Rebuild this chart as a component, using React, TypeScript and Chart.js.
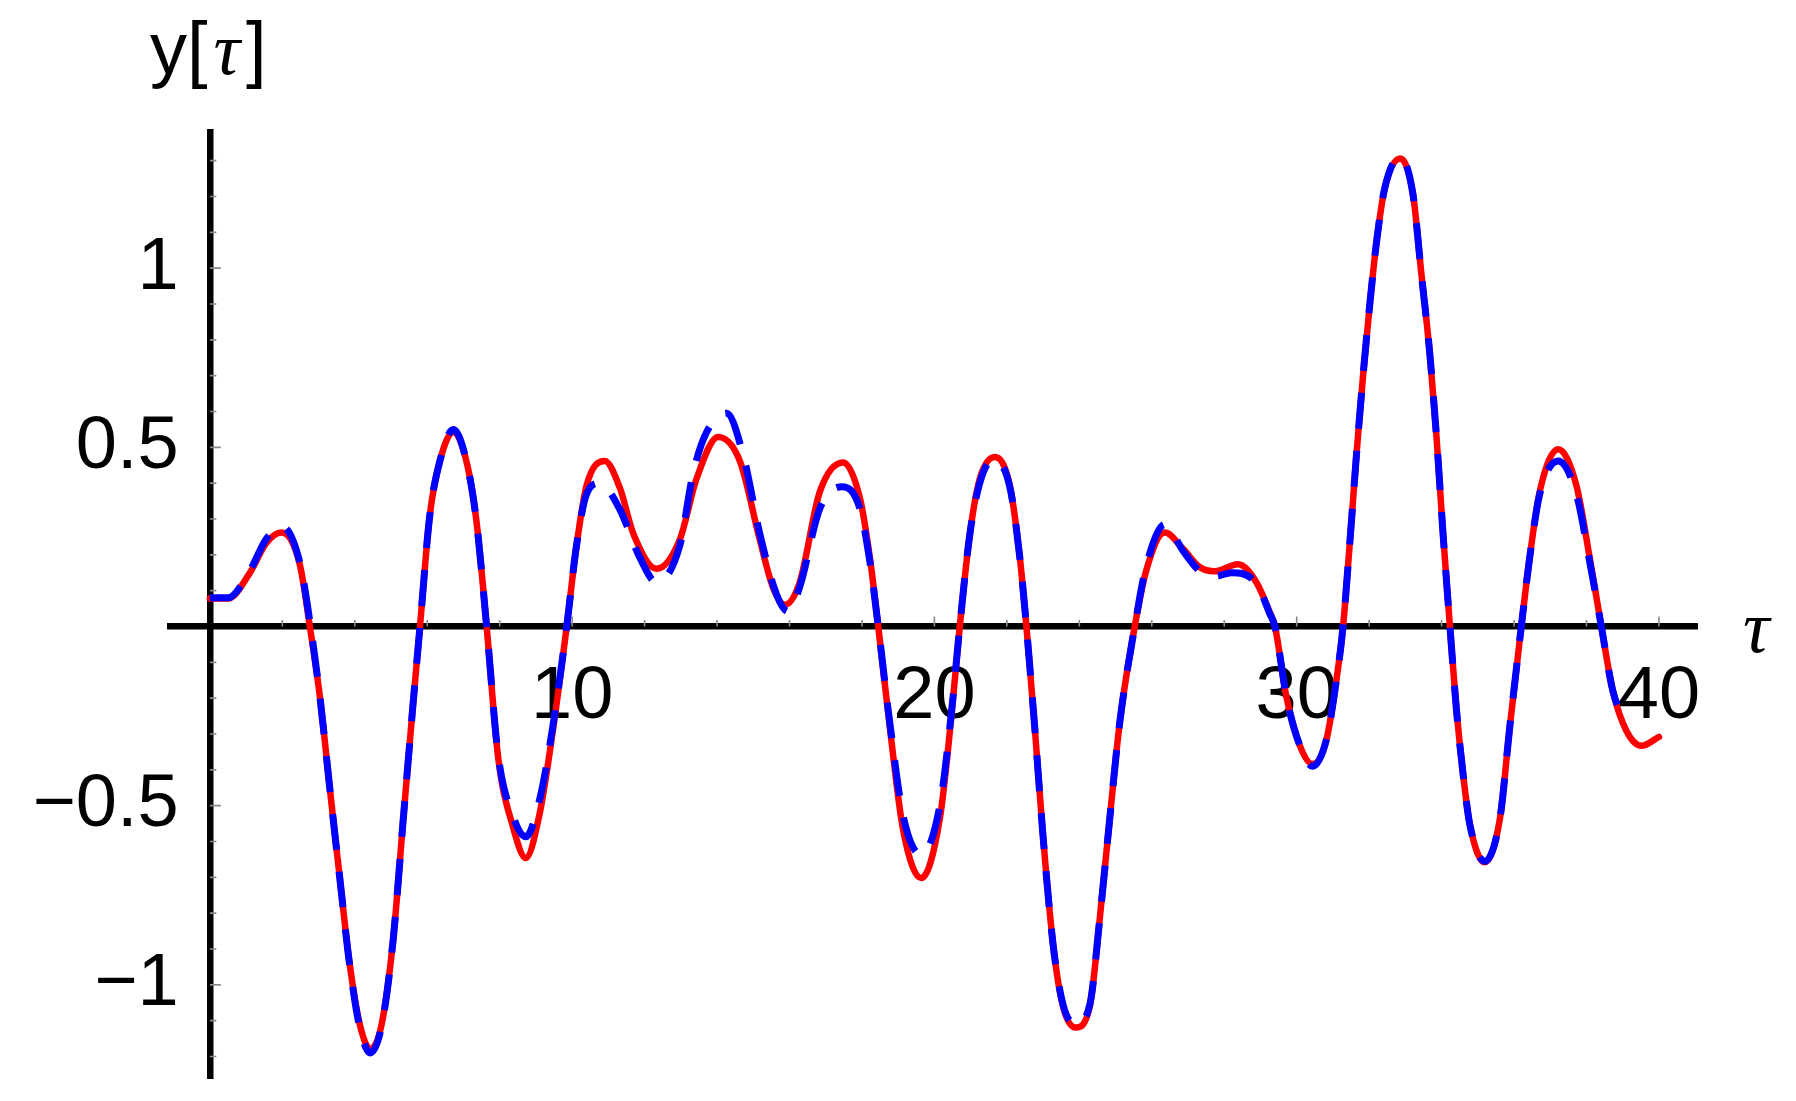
import React, { useEffect, useRef } from "react";
import { Chart, registerables } from "chart.js";

Chart.register(...registerables);

// red solid curve: [tau, y]
const redCurve: [number, number][] = [
  [0, 0.078], [0.5, 0.078], [1.1, 0.149], [1.56, 0.233], [1.98, 0.262], [2.48, 0.174], [2.76, 0],
  [3.04, -0.198], [3.31, -0.451], [3.59, -0.705], [3.86, -0.942], [4.14, -1.111], [4.43, -1.179],
  [4.74, -1.111], [5.06, -0.874], [5.34, -0.536], [5.61, -0.215], [5.8, 0], [6.07, 0.309], [6.35, 0.462],
  [6.72, 0.543], [7.08, 0.462], [7.36, 0.293], [7.64, 0], [7.96, -0.367], [8.37, -0.56], [8.72, -0.646],
  [9.11, -0.519], [9.48, -0.282], [9.85, 0], [10.12, 0.225], [10.4, 0.394], [10.9, 0.462], [11.32, 0.386],
  [11.69, 0.259], [12.33, 0.161], [12.97, 0.242], [13.43, 0.411], [14.03, 0.529], [14.63, 0.462],
  [15.18, 0.242], [15.55, 0.107], [15.87, 0.061], [16.28, 0.123], [16.84, 0.377], [17.48, 0.458],
  [17.94, 0.36], [18.22, 0.191], [18.45, 0], [18.77, -0.282], [19.14, -0.57], [19.64, -0.702],
  [20.15, -0.536], [20.47, -0.249], [20.7, 0], [20.98, 0.259], [21.25, 0.411], [21.67, 0.473],
  [22.08, 0.394], [22.36, 0.191], [22.54, 0], [22.77, -0.282], [23.0, -0.587], [23.28, -0.891],
  [23.55, -1.06], [23.9, -1.119], [24.29, -1.06], [24.57, -0.81], [24.84, -0.536], [25.12, -0.265],
  [25.53, 0], [25.85, 0.157], [26.36, 0.262], [26.87, 0.216], [27.32, 0.166], [27.74, 0.154],
  [28.38, 0.174], [28.89, 0.123], [29.26, 0.039], [29.4, 0], [29.72, -0.198], [30.09, -0.333],
  [30.44, -0.384], [30.82, -0.316], [31.1, -0.147], [31.28, 0], [31.46, 0.225], [31.65, 0.479],
  [31.83, 0.698], [32.02, 0.901], [32.2, 1.07], [32.43, 1.223], [32.86, 1.306], [33.21, 1.206],
  [33.44, 0.986], [33.67, 0.766], [33.86, 0.529], [34.04, 0.259], [34.23, 0], [34.41, -0.232],
  [34.6, -0.418], [34.78, -0.553], [35.19, -0.658], [35.61, -0.536], [35.88, -0.282], [36.2, 0],
  [36.43, 0.191], [36.71, 0.377], [37.22, 0.495], [37.72, 0.394], [38.09, 0.191], [38.41, 0],
  [38.73, -0.181], [39.1, -0.291], [39.52, -0.333], [40.0, -0.308],
];

// blue dashed curve: [tau, y]
const blueCurve: [number, number][] = [
  [0, 0.08], [0.5, 0.08], [1.1, 0.155], [1.56, 0.245], [1.98, 0.28], [2.48, 0.18], [2.78, 0],
  [3.04, -0.198], [3.31, -0.451], [3.59, -0.705], [3.86, -0.945], [4.14, -1.12], [4.43, -1.19],
  [4.74, -1.115], [5.06, -0.874], [5.34, -0.536], [5.61, -0.215], [5.8, 0], [6.07, 0.309], [6.35, 0.462],
  [6.72, 0.55], [7.08, 0.462], [7.36, 0.293], [7.64, 0], [7.96, -0.36], [8.37, -0.53], [8.72, -0.587],
  [9.11, -0.48], [9.48, -0.27], [9.85, 0], [10.12, 0.225], [10.4, 0.37], [10.76, 0.4], [11.3, 0.33],
  [11.88, 0.19], [12.33, 0.123], [12.97, 0.225], [13.34, 0.428], [13.7, 0.54], [14.26, 0.595],
  [14.72, 0.479], [15.18, 0.259], [15.64, 0.09], [15.96, 0.042], [16.28, 0.11], [16.84, 0.33],
  [17.45, 0.39], [17.94, 0.33], [18.22, 0.18], [18.45, 0], [18.77, -0.27], [19.14, -0.53],
  [19.64, -0.637], [20.15, -0.5], [20.47, -0.24], [20.7, 0], [20.98, 0.259], [21.25, 0.4],
  [21.62, 0.465], [22.08, 0.39], [22.36, 0.191], [22.54, 0], [22.77, -0.282], [23.0, -0.587],
  [23.28, -0.891], [23.55, -1.055], [23.9, -1.11], [24.29, -1.055], [24.57, -0.81], [24.84, -0.536],
  [25.12, -0.265], [25.53, 0], [25.85, 0.17], [26.36, 0.285], [26.87, 0.21], [27.32, 0.155],
  [27.74, 0.14], [28.2, 0.15], [28.89, 0.12], [29.26, 0.035], [29.4, 0], [29.72, -0.198],
  [30.09, -0.333], [30.44, -0.39], [30.82, -0.316], [31.1, -0.147], [31.28, 0], [31.46, 0.225],
  [31.65, 0.479], [31.83, 0.698], [32.02, 0.901], [32.2, 1.07], [32.43, 1.223], [32.86, 1.31],
  [33.21, 1.206], [33.44, 0.986], [33.67, 0.766], [33.86, 0.529], [34.04, 0.259], [34.23, 0],
  [34.41, -0.232], [34.6, -0.418], [34.78, -0.553], [35.19, -0.655], [35.61, -0.536], [35.88, -0.282],
  [36.2, 0], [36.43, 0.191], [36.71, 0.37], [37.22, 0.462], [37.72, 0.37], [38.09, 0.18], [38.41, 0],
  [38.73, -0.181], [39.1, -0.27],
];

const xTickValues = [10, 20, 30, 40];
const yTickValues = [-1, -0.5, 0.5, 1];
const xMinorTicks = [2, 4, 6, 8, 12, 14, 16, 18, 22, 24, 26, 28, 32, 34, 36, 38];
const yMinorTicks = [
  -1.2, -1.1, -0.9, -0.8, -0.7, -0.6, -0.4, -0.3, -0.2, -0.1,
  0.1, 0.2, 0.3, 0.4, 0.6, 0.7, 0.8, 0.9, 1.1, 1.2, 1.3,
];
const xAxisTitle = "τ";
const yAxisTitleParts = ["y[", "τ", "]"];

const X_MIN = -1.1;
const X_MAX = 41.05;
const Y_MIN = -1.26;
const Y_MAX = 1.38;
// horizontal place (in tau units) of the right edge of the y tick labels
const Y_LABEL_ANCHOR = -0.86;

const SANS = '"Liberation Sans", Arial, sans-serif';
const SERIF = '"Liberation Serif", "Times New Roman", serif';
const FONT_SIZE = 74;

const fmt = (v: number) => (v < 0 ? "\u2212" + String(Math.abs(v)) : String(v));

const decorPlugin = {
  id: "decor",
  beforeDatasetsDraw(chart: any) {
    const ctx = chart.ctx as CanvasRenderingContext2D;
    const xs = chart.scales.x;
    const ys = chart.scales.y;
    const x0 = xs.getPixelForValue(0);
    const y0 = ys.getPixelForValue(0);
    ctx.save();
    ctx.strokeStyle = "#8a8a8a";
    ctx.lineWidth = 1.6;
    ctx.beginPath();
    for (const v of xTickValues) {
      const p = xs.getPixelForValue(v);
      ctx.moveTo(p, y0);
      ctx.lineTo(p, y0 - 10);
    }
    for (const v of xMinorTicks) {
      const p = xs.getPixelForValue(v);
      ctx.moveTo(p, y0);
      ctx.lineTo(p, y0 - 6.5);
    }
    for (const v of yTickValues) {
      const p = ys.getPixelForValue(v);
      ctx.moveTo(x0, p);
      ctx.lineTo(x0 + 11, p);
    }
    for (const v of yMinorTicks) {
      const p = ys.getPixelForValue(v);
      ctx.moveTo(x0, p);
      ctx.lineTo(x0 + 6.5, p);
    }
    ctx.stroke();
    ctx.restore();
  },
  afterDraw(chart: any) {
    const ctx = chart.ctx as CanvasRenderingContext2D;
    ctx.save();
    ctx.fillStyle = "#000";
    ctx.textBaseline = "alphabetic";
    ctx.textAlign = "left";
    // y axis title: y[τ]
    let x = 150;
    const base = 74;
    ctx.font = `${FONT_SIZE}px ${SANS}`;
    ctx.fillText(yAxisTitleParts[0], x, base);
    x += ctx.measureText(yAxisTitleParts[0]).width + 6;
    ctx.font = `italic ${FONT_SIZE}px ${SERIF}`;
    ctx.fillText(yAxisTitleParts[1], x, base);
    x += ctx.measureText(yAxisTitleParts[1]).width + 6;
    ctx.font = `${FONT_SIZE}px ${SANS}`;
    ctx.fillText(yAxisTitleParts[2], x, base);
    // x axis title: τ
    ctx.font = `italic ${FONT_SIZE}px ${SERIF}`;
    ctx.fillText(xAxisTitle, 1743, 652);
    ctx.restore();
  },
};

export default function App() {
  const canvasRef = useRef<HTMLCanvasElement | null>(null);

  useEffect(() => {
    const canvas = canvasRef.current;
    if (!canvas) return;
    const chart = new Chart(canvas, {
      type: "line",
      data: {
        datasets: [
          {
            label: "blue",
            data: blueCurve.map(([x, y]) => ({ x, y })),
            borderColor: "#0000ff",
            borderWidth: 7,
            borderDash: [36, 22],
            borderCapStyle: "butt",
            borderJoinStyle: "round",
            pointRadius: 0,
            fill: false,
            cubicInterpolationMode: "monotone",
            order: 1,
          },
          {
            label: "red",
            data: redCurve.map(([x, y]) => ({ x, y })),
            borderColor: "#ff0000",
            borderWidth: 6.5,
            borderCapStyle: "round",
            borderJoinStyle: "round",
            pointRadius: 0,
            fill: false,
            cubicInterpolationMode: "monotone",
            order: 2,
          },
        ],
      },
      options: {
        animation: false,
        responsive: false,
        maintainAspectRatio: false,
        devicePixelRatio: 1,
        events: [],
        layout: { padding: { left: 170, right: 99, top: 132, bottom: 23 } },
        plugins: { legend: { display: false }, tooltip: { enabled: false } },
        scales: {
          x: {
            type: "linear",
            min: X_MIN,
            max: X_MAX,
            position: { y: 0 } as any,
            grid: { display: false, drawTicks: false, tickLength: 0 },
            border: { display: true, color: "#000", width: 6.5 },
            afterBuildTicks: (scale: any) => {
              scale.ticks = xTickValues.map((v) => ({ value: v }));
            },
            ticks: {
              autoSkip: false,
              maxRotation: 0,
              minRotation: 0,
              padding: 27,
              color: "#000",
              font: { family: SANS, size: FONT_SIZE },
              callback: (v: any) => fmt(Number(v)),
            },
          },
          // y scale carrying the tick labels (its own line hidden)
          y: {
            type: "linear",
            min: Y_MIN,
            max: Y_MAX,
            position: { x: Y_LABEL_ANCHOR } as any,
            grid: { display: false, drawTicks: false, tickLength: 0 },
            border: { display: false },
            afterBuildTicks: (scale: any) => {
              scale.ticks = yTickValues.map((v) => ({ value: v }));
            },
            ticks: {
              autoSkip: false,
              padding: 0,
              color: "#000",
              font: { family: SANS, size: FONT_SIZE, lineHeight: 0.4 },
              callback: (v: any) => fmt(Number(v)),
            },
          },
          // y axis line through the origin
          yAxisLine: {
            type: "linear",
            min: Y_MIN,
            max: Y_MAX,
            position: { x: 0 } as any,
            grid: { display: false, drawTicks: false, tickLength: 0 },
            border: { display: true, color: "#000", width: 6.5 },
            ticks: { display: false },
          },
        },
      },
      plugins: [decorPlugin],
    });
    return () => chart.destroy();
  }, []);

  return (
    <div
      style={{
        position: "fixed",
        left: 0,
        top: 0,
        width: 1796,
        height: 1101,
        background: "#fff",
        overflow: "hidden",
      }}
    >
      <canvas ref={canvasRef} width={1796} height={1101} style={{ display: "block" }} />
    </div>
  );
}
